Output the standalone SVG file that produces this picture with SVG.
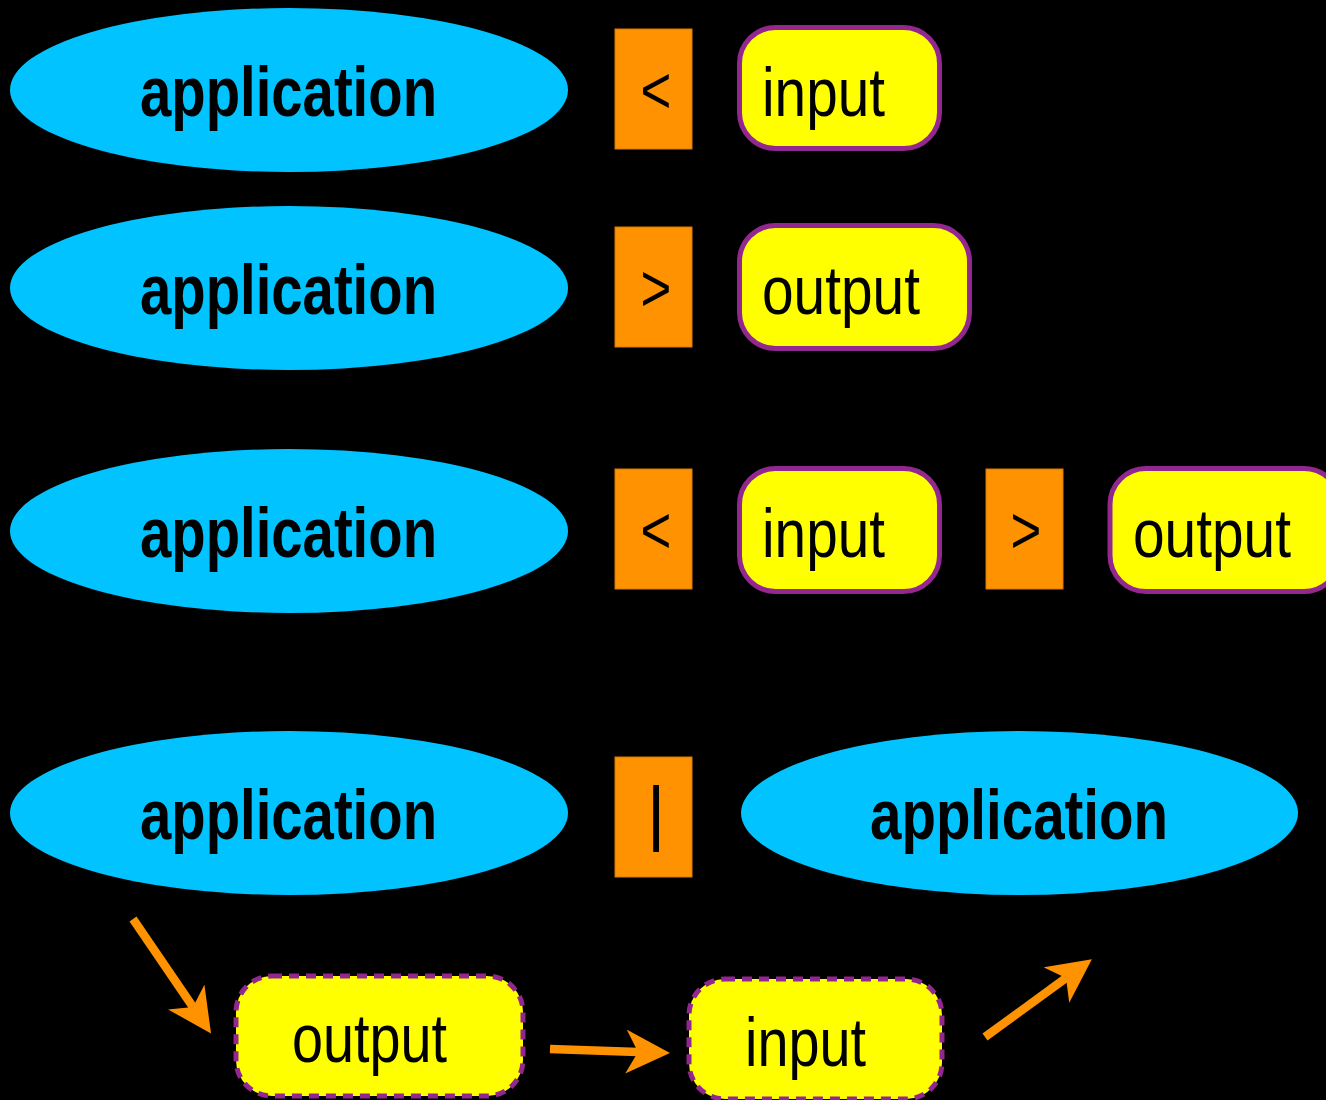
<svg xmlns="http://www.w3.org/2000/svg" width="1326" height="1100" viewBox="0 0 1326 1100">
<style>
.app{fill:#00c3ff}
.appt{font-family:"Liberation Sans",Arial,sans-serif;font-weight:bold;font-size:70px;fill:#000}
.op{fill:#ff9200;stroke:#d97a00;stroke-width:1}
.opt{font-family:"Liberation Sans",Arial,sans-serif;font-size:66px;fill:#000;text-anchor:middle}
.file{fill:#ffff00;stroke:#92278f;stroke-width:5}
.dash{stroke-dasharray:10 7}
.ft{font-family:"Liberation Sans",Arial,sans-serif;font-size:68px;fill:#000}
.arr{stroke:#ff9200;stroke-width:8.5;fill:none}
</style>
<defs>
<marker id="ah" markerUnits="userSpaceOnUse" viewBox="0 0 44 44" markerWidth="44" markerHeight="44" refX="12" refY="22" orient="auto">
<path d="M0,0 L44,22 L0,44 L12,22 Z" fill="#ff9200"/>
</marker>
</defs>
<rect width="1326" height="1100" fill="#000"/>

<g id="app1"><ellipse class="app" cx="289" cy="90" rx="279" ry="82"/><text class="appt" x="140" y="116" textLength="297" lengthAdjust="spacingAndGlyphs">application</text></g>
<g id="op1"><rect class="op" x="615" y="29" width="77" height="120"/><text class="opt" transform="translate(656,113) scale(0.8,1)">&lt;</text></g>
<g id="in1"><rect class="file" x="739.5" y="27.5" width="200" height="121" rx="36"/><text class="ft" x="762" y="116" textLength="123" lengthAdjust="spacingAndGlyphs">input</text></g>

<g id="app2"><ellipse class="app" cx="289" cy="288" rx="279" ry="82"/><text class="appt" x="140" y="314" textLength="297" lengthAdjust="spacingAndGlyphs">application</text></g>
<g id="op2"><rect class="op" x="615" y="227" width="77" height="120"/><text class="opt" transform="translate(656,311) scale(0.8,1)">&gt;</text></g>
<g id="out2"><rect class="file" x="739.5" y="225.5" width="230" height="123" rx="36"/><text class="ft" x="762" y="314" textLength="158" lengthAdjust="spacingAndGlyphs">output</text></g>

<g id="app3"><ellipse class="app" cx="289" cy="531" rx="279" ry="82"/><text class="appt" x="140" y="557" textLength="297" lengthAdjust="spacingAndGlyphs">application</text></g>
<g id="op3"><rect class="op" x="615" y="469" width="77" height="120"/><text class="opt" transform="translate(656,553) scale(0.8,1)">&lt;</text></g>
<g id="in3"><rect class="file" x="739.5" y="468.5" width="200" height="123" rx="36"/><text class="ft" x="762" y="557" textLength="123" lengthAdjust="spacingAndGlyphs">input</text></g>
<g id="op4"><rect class="op" x="986" y="469" width="77" height="120"/><text class="opt" transform="translate(1026,553) scale(0.8,1)">&gt;</text></g>
<g id="out3"><rect class="file" x="1110" y="468.5" width="230" height="123" rx="36"/><text class="ft" x="1133" y="557" textLength="158" lengthAdjust="spacingAndGlyphs">output</text></g>

<g id="app4"><ellipse class="app" cx="289" cy="813" rx="279" ry="82"/><text class="appt" x="140" y="839" textLength="297" lengthAdjust="spacingAndGlyphs">application</text></g>
<g id="op5"><rect class="op" x="615" y="757" width="77" height="120"/><text class="opt" x="656" y="837" style="font-size:72px">|</text></g>
<g id="app5"><ellipse class="app" cx="1019.5" cy="813" rx="278.5" ry="82"/><text class="appt" x="870" y="839" textLength="298" lengthAdjust="spacingAndGlyphs">application</text></g>

<g id="out4"><rect class="file dash" x="236" y="976" width="287" height="120" rx="36"/><text class="ft" x="292" y="1062" textLength="155" lengthAdjust="spacingAndGlyphs">output</text></g>
<g id="in4"><rect class="file dash" x="689" y="979" width="253" height="120" rx="36"/><text class="ft" x="745" y="1066" textLength="121" lengthAdjust="spacingAndGlyphs">input</text></g>

<g id="connectors">
<line class="arr" x1="133" y1="919" x2="193" y2="1007" marker-end="url(#ah)"/>
<line class="arr" x1="550" y1="1049" x2="638" y2="1052" marker-end="url(#ah)"/>
<line class="arr" x1="985" y1="1037" x2="1066" y2="978" marker-end="url(#ah)"/>
</g>
</svg>
